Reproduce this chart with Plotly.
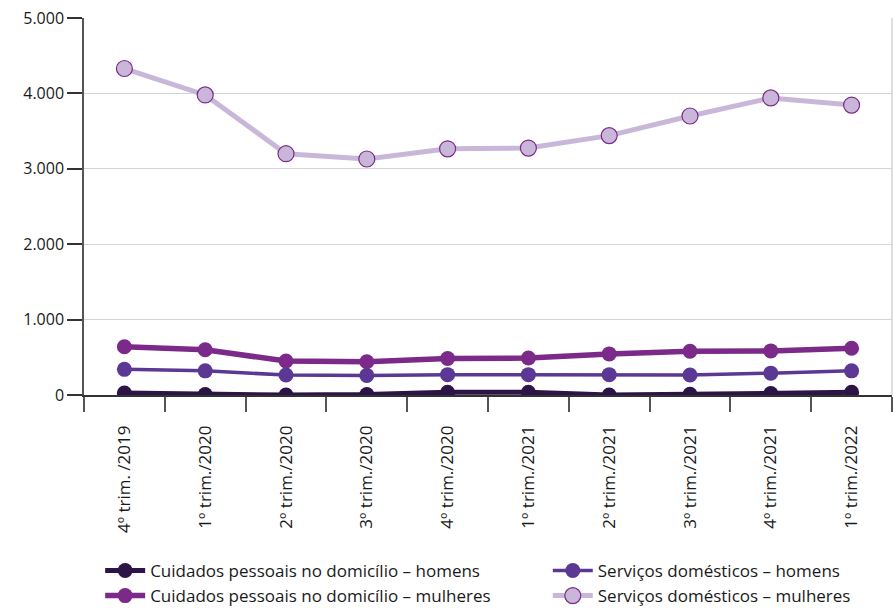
import plotly.graph_objects as go

# Quarterly series (thousands of people)
trimestres = [
    "4º trim. /2019", "1º trim./2020", "2º trim./2020", "3º trim./2020",
    "4º trim./2020", "1º trim./2021", "2º trim./2021", "3º trim./2021",
    "4º trim./2021", "1º trim./2022",
]
cuidados_homens = [25, 5, 0, 5, 35, 35, 0, 10, 20, 35]
servicos_homens = [340, 320, 265, 260, 270, 270, 270, 265, 290, 320]
cuidados_mulheres = [640, 600, 450, 440, 485, 490, 545, 580, 585, 620]
servicos_mulheres = [4330, 3980, 3200, 3130, 3265, 3275, 3440, 3700, 3940, 3845]

y_ticks = [0, 1000, 2000, 3000, 4000, 5000]
y_tick_text = ["0", "1.000", "2.000", "3.000", "4.000", "5.000"]

FONT = "Open Sans"

fig = go.Figure()

# "Cuidados" series go to the left legend column, "Serviços" to the right one
fig.add_trace(go.Scatter(
    x=trimestres, y=cuidados_homens, mode="lines+markers",
    name="Cuidados pessoais no domicílio – homens", legend="legend",
    line=dict(color="#2d1446", width=5),
    marker=dict(color="#2d1446", size=15),
))
fig.add_trace(go.Scatter(
    x=trimestres, y=servicos_homens, mode="lines+markers",
    name="Serviços domésticos – homens", legend="legend2",
    line=dict(color="#5a3893", width=3.5),
    marker=dict(color="#5a3893", size=15),
))
fig.add_trace(go.Scatter(
    x=trimestres, y=cuidados_mulheres, mode="lines+markers",
    name="Cuidados pessoais no domicílio – mulheres", legend="legend",
    line=dict(color="#7c2a8a", width=5.5),
    marker=dict(color="#7c2a8a", size=15),
))
fig.add_trace(go.Scatter(
    x=trimestres, y=servicos_mulheres, mode="lines+markers",
    name="Serviços domésticos – mulheres", legend="legend2",
    line=dict(color="#c9b7d9", width=5),
    marker=dict(color="#c9b7d9", size=16, line=dict(color="#7c2a8a", width=1.2)),
))

legend_style = dict(
    orientation="v", xanchor="left", yanchor="top", y=-0.419,
    font=dict(family=FONT, size=17, color="#1a1a1a"),
    itemwidth=40, tracegroupgap=0, bgcolor="rgba(0,0,0,0)",
)

fig.update_layout(
    width=894, height=608,
    margin=dict(l=84, r=2, t=18, b=213, autoexpand=False),
    paper_bgcolor="white", plot_bgcolor="white",
    font=dict(family=FONT, size=15, color="#1a1a1a"),
    showlegend=True,
    legend=dict(x=0.02, **legend_style),
    legend2=dict(x=0.574, **legend_style),
    xaxis=dict(
        type="category", tickangle=-90, tickson="boundaries", automargin=False,
        ticks="outside", ticklen=15, tickcolor="#555555", tickwidth=1.5,
        ticklabelstandoff=22,
        showline=True, linecolor="#333333", linewidth=1.5,
        showgrid=False, range=[-0.5, 9.5],
        tickfont=dict(family=FONT, size=17, color="#1a1a1a"),
    ),
    yaxis=dict(
        range=[0, 5000], tickvals=y_ticks, ticktext=y_tick_text, automargin=False,
        ticks="outside", ticklen=15, tickcolor="#333333", tickwidth=1.5,
        showline=True, linecolor="#555555", linewidth=1.5,
        showgrid=True, gridcolor="#d4d4d4", gridwidth=1,
        zeroline=False,
        tickfont=dict(family=FONT, size=16, color="#1a1a1a"),
    ),
    shapes=[
        dict(type="line", xref="paper", yref="paper", x0=1, x1=1, y0=0, y1=1,
             line=dict(color="#d4d4d4", width=1.5), layer="below"),
    ],
)

fig.write_html("out.html")
